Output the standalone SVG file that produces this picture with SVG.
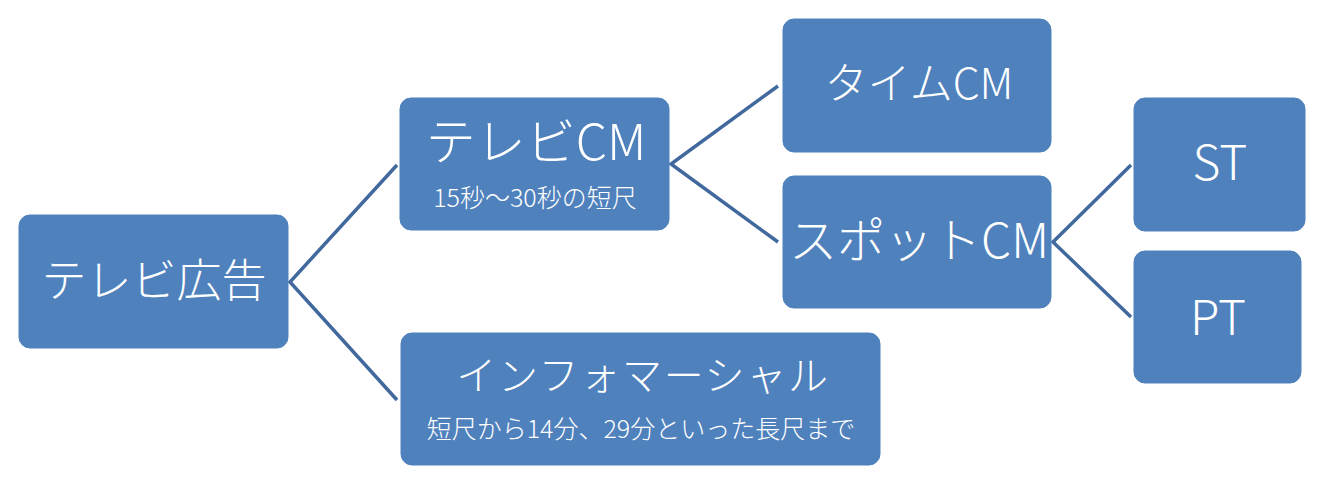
<svg xmlns="http://www.w3.org/2000/svg" width="1338" height="485" viewBox="0 0 1338 485">
<style>
.box{fill:#4F81BD;stroke:#4F81BD;stroke-width:1}
.t{fill:#FFFFFF;font-family:"Noto Sans CJK JP","Noto Sans",sans-serif;font-weight:300;text-anchor:middle}
.c{fill:none;stroke:#41699E;stroke-width:3.5;stroke-linejoin:miter}
</style>
<rect width="1338" height="485" fill="#FFFFFF"/>
<g id="connectors">
<polyline class="c" points="397,165 290,282 397,400"/>
<polyline class="c" points="778,86 671,164 778,242"/>
<polyline class="c" points="1131,165 1053,242 1131,317"/>
</g>
<g id="node-tv-ad">
<rect class="box" x="19" y="215" width="269" height="133" rx="11"/>
<text class="t" x="154" y="297" font-size="45">テレビ広告</text>
</g>
<g id="node-tv-cm">
<rect class="box" x="400" y="98" width="269" height="132" rx="11"/>
<text class="t" x="536" y="160" font-size="50">テレビCM</text>
<text class="t" x="535" y="207" font-size="25">15秒～30秒の短尺</text>
</g>
<g id="node-infomercial">
<rect class="box" x="401" y="333" width="479" height="132" rx="11"/>
<text class="t" x="643" y="390" font-size="40" letter-spacing="1.7">インフォマーシャル</text>
<text class="t" x="641" y="438" font-size="25">短尺から14分、29分といった長尺まで</text>
</g>
<g id="node-time-cm">
<rect class="box" x="783" y="19" width="268" height="133" rx="11"/>
<text class="t" x="919" y="99" font-size="43">タイムCM</text>
</g>
<g id="node-spot-cm">
<rect class="box" x="783" y="176" width="268" height="132" rx="11"/>
<text class="t" x="919" y="258" font-size="48">スポットCM</text>
</g>
<g id="node-st">
<rect class="box" x="1134" y="98" width="171" height="133" rx="11"/>
<text class="t" x="1220" y="180" font-size="48">ST</text>
</g>
<g id="node-pt">
<rect class="box" x="1134" y="251" width="167" height="132" rx="11"/>
<text class="t" x="1218" y="335" font-size="48">PT</text>
</g>
</svg>
